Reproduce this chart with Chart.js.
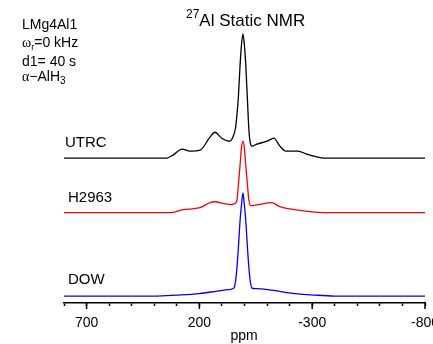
<!DOCTYPE html>
<html>
<head>
<meta charset="utf-8">
<script src="https://cdn.jsdelivr.net/npm/chart.js@4.4.1/dist/chart.umd.min.js"></script>
<style>
  html, body { margin: 0; padding: 0; background: #fff; overflow: hidden; }
  #wrap { position: relative; width: 460px; height: 344px; font-family: "Liberation Sans", Arial, sans-serif; color: #000; }
  .lbl { position: absolute; white-space: nowrap; line-height: 1; }
  .gr { font-family: "Liberation Serif", "Times New Roman", serif; }
</style>
</head>
<body>
<div id="wrap">
  <canvas id="nmrChart"></canvas>
  <div class="lbl" style="left:186px; top:11.5px; font-size:17px;"><span style="position:relative; top:-8px; font-size:12px;">27</span>Al Static NMR</div>
  <div class="lbl" style="left:22px; top:16.5px; font-size:14px;">LMg4Al1</div>
  <div class="lbl" style="left:22px; top:35px; font-size:14px;"><span class="gr">ω</span><span style="position:relative; top:3px; font-size:9px;">r</span>=0 kHz</div>
  <div class="lbl" style="left:22px; top:54px; font-size:14px;">d1= 40 s</div>
  <div class="lbl" style="left:22px; top:69px; font-size:14px;"><span class="gr">α</span>−AlH<span style="position:relative; top:3px; font-size:10px;">3</span></div>
  <div class="lbl" style="left:65px; top:133.5px; font-size:15px;">UTRC</div>
  <div class="lbl" style="left:68px; top:189px; font-size:15px;">H2963</div>
  <div class="lbl" style="left:68px; top:270.5px; font-size:15px;">DOW</div>
  <div class="lbl" style="left:244px; top:328px; font-size:14px; transform:translateX(-50%);">ppm</div>
</div>
<script>
// ---- spectra (ppm, intensity above own baseline) ----
const utrcPpm = [800, 600, 400, 344, 317, 277, 242, 197, 153, 131, 101, 65, 50, 40, 33, 27, 20, 13, 7, 1, -6, -13, -19, -25, -33, -55, -100, -130, -157, -183, -237, -275, -325, -347, -500, -800];
const utrcInt = [0, 0, 0, 0, 3, 9, 7, 8, 21, 26, 20, 17, 22, 30, 45, 62, 92, 115, 125, 115, 92, 59, 30, 16, 12, 14, 17, 20, 12, 7, 7, 4, 1, 0, 0, 0];

const h2963Ppm = [800, 600, 400, 330, 272, 197, 153, 131, 90, 57, 45, 34, 27, 20, 13, 7, 1, -6, -13, -20, -28, -60, -120, -157, -193, -290, -364, -500, -800];
const h2963Int = [0, 0, 0, 0, 3, 5, 10, 11, 9, 8, 9, 12, 28, 47, 66, 72, 66, 47, 28, 12, 7, 8, 10, 6, 4, 1, 0, 0, 0];

const dowPpm = [800, 600, 400, 300, 200, 120, 70, 47, 38, 29, 22, 19, 12, 7, 2, -5, -8, -15, -24, -33, -50, -120, -205, -310, -400, -800];
const dowInt = [0, 0, 0, 1, 2.5, 5, 6.5, 8, 18, 42, 68, 78, 95, 104, 95, 78, 68, 42, 18, 8, 7.5, 6, 3, 1, 0, 0];

// vertical stacking offsets of the three traces
const utrcOffset = 146;
const h2963Offset = 91;
const dowOffset = 7;

const xTicks = { min: -800, max: 800, step: 100 };
const labelledTicks = [700, 200, -300, -800];

function toPoints(ppm, vals, offset) {
  return ppm.map((p, i) => ({ x: p, y: vals[i] + offset }));
}

// longer marks for the labelled ticks
const majorTicks = {
  id: "majorTicks",
  afterDraw(chart) {
    const sc = chart.scales.x;
    const ctx = chart.ctx;
    ctx.save();
    ctx.strokeStyle = "#000";
    ctx.lineWidth = 1.5;
    labelledTicks.forEach(v => {
      const px = sc.getPixelForValue(v);
      ctx.beginPath();
      ctx.moveTo(px, sc.top);
      ctx.lineTo(px, sc.top + 6);
      ctx.stroke();
    });
    ctx.restore();
  }
};

function lineSet(label, data, color) {
  return {
    label: label,
    data: data,
    borderColor: color,
    borderWidth: 1.3,
    pointRadius: 0,
    fill: false,
    cubicInterpolationMode: "monotone"
  };
}

new Chart(document.getElementById("nmrChart"), {
  type: "line",
  data: {
    datasets: [
      lineSet("UTRC", toPoints(utrcPpm, utrcInt, utrcOffset), "#000000"),
      lineSet("H2963", toPoints(h2963Ppm, h2963Int, h2963Offset), "#ff0000"),
      lineSet("DOW", toPoints(dowPpm, dowInt, dowOffset), "#0000ff")
    ]
  },
  options: {
    responsive: true,
    maintainAspectRatio: false,
    animation: false,
    layout: { padding: { top: 25, left: 64, right: 35, bottom: 4 } },
    plugins: { legend: { display: false }, tooltip: { enabled: false } },
    scales: {
      x: {
        type: "linear",
        reverse: true,
        min: xTicks.min,
        max: xTicks.max,
        border: { display: true, color: "#000", width: 1.5 },
        grid: { drawOnChartArea: false, drawTicks: true, tickLength: 3, tickColor: "#000", tickWidth: 1.5 },
        ticks: {
          stepSize: xTicks.step,
          color: "#000",
          padding: 10,
          maxRotation: 0,
          autoSkip: false,
          font: { family: "'Liberation Sans', Arial, sans-serif", size: 14, lineHeight: 1 },
          callback: v => labelledTicks.includes(v) ? String(v) : ""
        }
      },
      y: { display: false, min: 0, max: 280 }
    }
  },
  plugins: [majorTicks]
});
</script>
</body>
</html>
